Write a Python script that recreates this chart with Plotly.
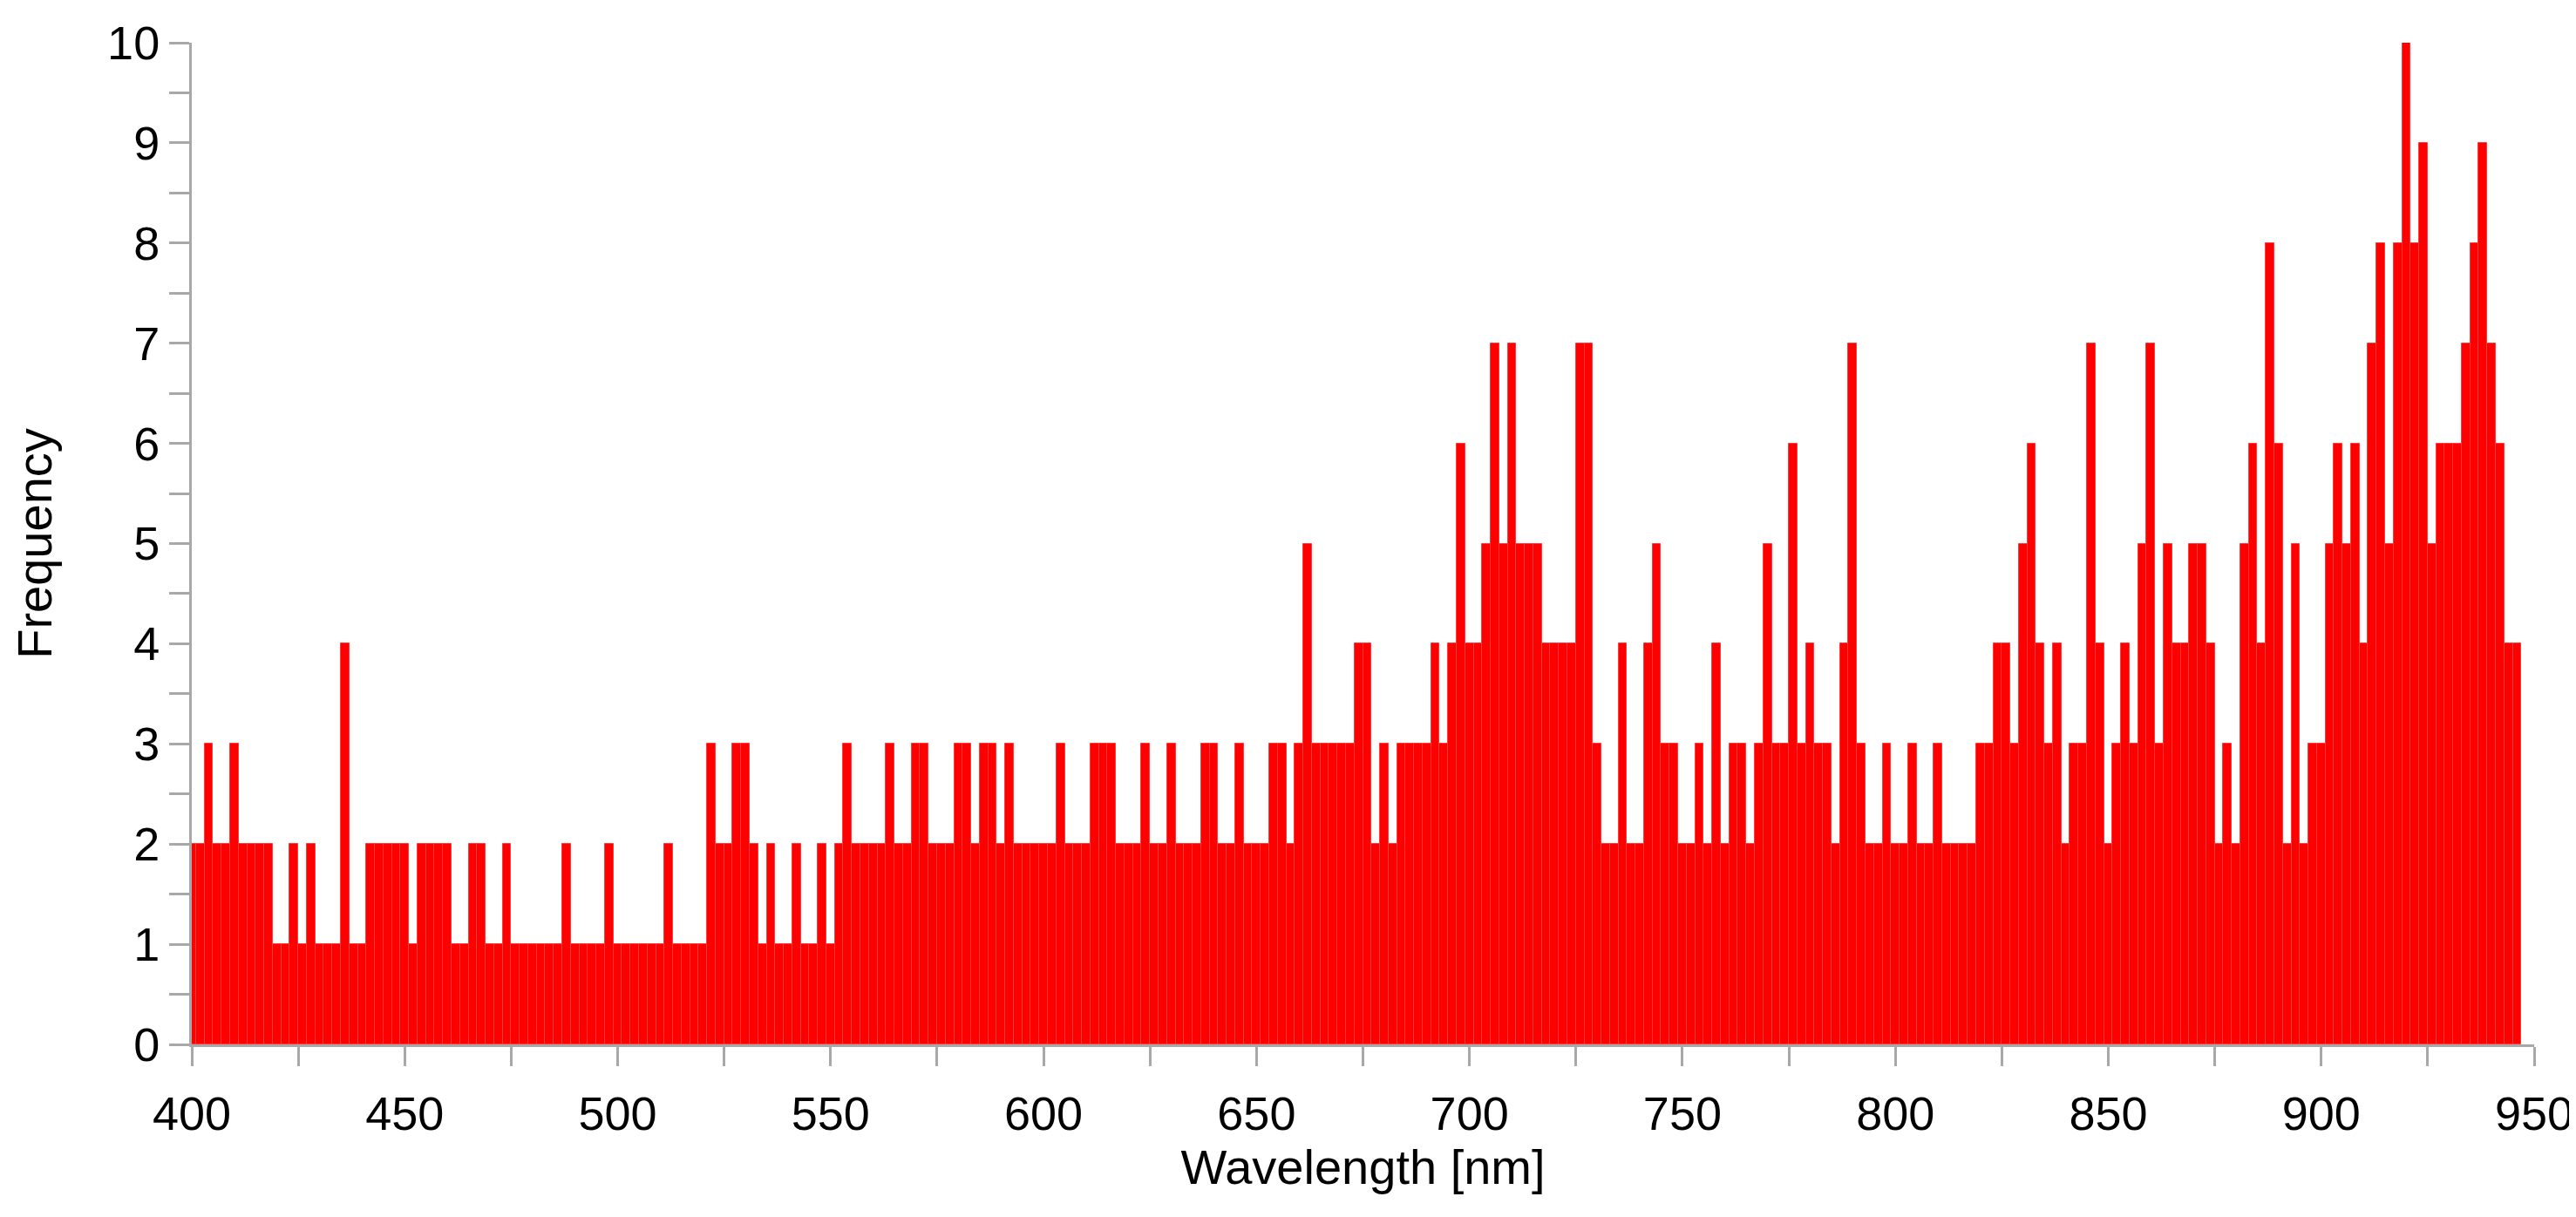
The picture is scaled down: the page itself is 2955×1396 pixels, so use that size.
import plotly.graph_objects as go

# 2 nm bins, centred on even wavelengths 400 ... 946 nm
WAVELENGTH = list(range(400, 947, 2))

FREQUENCY = [
    2, 2, 3, 2, 2, 3, 2, 2, 2, 2,   # 400-418
    1, 1, 2, 1, 2, 1, 1, 1, 4, 1,   # 420-438
    1, 2, 2, 2, 2, 2, 1, 2, 2, 2,   # 440-458
    2, 1, 1, 2, 2, 1, 1, 2, 1, 1,   # 460-478
    1, 1, 1, 1, 2, 1, 1, 1, 1, 2,   # 480-498
    1, 1, 1, 1, 1, 1, 2, 1, 1, 1,   # 500-518
    1, 3, 2, 2, 3, 3, 2, 1, 2, 1,   # 520-538
    1, 2, 1, 1, 2, 1, 2, 3, 2, 2,   # 540-558
    2, 2, 3, 2, 2, 3, 3, 2, 2, 2,   # 560-578
    3, 3, 2, 3, 3, 2, 3, 2, 2, 2,   # 580-598
    2, 2, 3, 2, 2, 2, 3, 3, 3, 2,   # 600-618
    2, 2, 3, 2, 2, 3, 2, 2, 2, 3,   # 620-638
    3, 2, 2, 3, 2, 2, 2, 3, 3, 2,   # 640-658
    3, 5, 3, 3, 3, 3, 3, 4, 4, 2,   # 660-678
    3, 2, 3, 3, 3, 3, 4, 3, 4, 6,   # 680-698
    4, 4, 5, 7, 5, 7, 5, 5, 5, 4,   # 700-718
    4, 4, 4, 7, 7, 3, 2, 2, 4, 2,   # 720-738
    2, 4, 5, 3, 3, 2, 2, 3, 2, 4,   # 740-758
    2, 3, 3, 2, 3, 5, 3, 3, 6, 3,   # 760-778
    4, 3, 3, 2, 4, 7, 3, 2, 2, 3,   # 780-798
    2, 2, 3, 2, 2, 3, 2, 2, 2, 2,   # 800-818
    3, 3, 4, 4, 3, 5, 6, 4, 3, 4,   # 820-838
    2, 3, 3, 7, 4, 2, 3, 4, 3, 5,   # 840-858
    7, 3, 5, 4, 4, 5, 5, 4, 2, 3,   # 860-878
    2, 5, 6, 4, 8, 6, 2, 5, 2, 3,   # 880-898
    3, 5, 6, 5, 6, 4, 7, 8, 5, 8,   # 900-918
    10, 8, 9, 5, 6, 6, 6, 7, 8, 9,  # 920-938
    7, 6, 4, 4,                     # 940-946
]

X_TICKS = [400, 450, 500, 550, 600, 650, 700, 750, 800, 850, 900, 950]
Y_TICKS = [0, 1, 2, 3, 4, 5, 6, 7, 8, 9, 10]

FONT = "Liberation Sans, Arial, sans-serif"
AXIS_GREY = "#a8a8a8"

fig = go.Figure(
    go.Bar(
        x=WAVELENGTH,
        y=FREQUENCY,
        width=2,
        marker=dict(color="#ff0000", line=dict(color="#ff3a3a", width=1)),
        hovertemplate="%{x} nm: %{y}<extra></extra>",
    )
)

fig.update_layout(
    width=2955,
    height=1396,
    margin=dict(l=212, r=56, t=41, b=206),
    plot_bgcolor="white",
    paper_bgcolor="white",
    bargap=0,
    showlegend=False,
    font=dict(family=FONT, size=54, color="#000000"),
    xaxis=dict(
        range=[400, 950],
        tickvals=X_TICKS,
        ticks="outside",
        ticklen=22,
        tickwidth=3,
        tickcolor=AXIS_GREY,
        ticklabelstandoff=8,
        minor=dict(dtick=25, ticks="outside", ticklen=22, tickwidth=3, tickcolor=AXIS_GREY),
        showline=True,
        linecolor=AXIS_GREY,
        linewidth=3,
        showgrid=False,
        zeroline=False,
        title=dict(text="Wavelength [nm]", standoff=6, font=dict(size=56)),
    ),
    yaxis=dict(
        range=[0, 10],
        tickvals=Y_TICKS,
        ticks="outside",
        ticklen=23,
        tickwidth=3,
        tickcolor=AXIS_GREY,
        minor=dict(dtick=0.5, ticks="outside", ticklen=23, tickwidth=3, tickcolor=AXIS_GREY),
        showline=True,
        linecolor=AXIS_GREY,
        linewidth=3,
        showgrid=False,
        zeroline=False,
        title=dict(text="Frequency", standoff=46, font=dict(size=56)),
    ),
)

fig.write_html("out.html")
